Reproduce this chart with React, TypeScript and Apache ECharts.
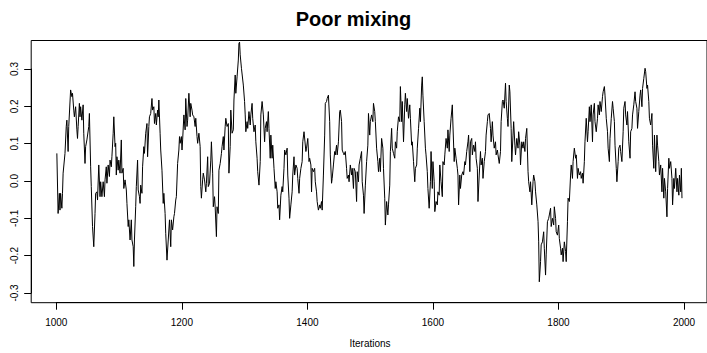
import React, { useEffect, useRef } from "react";
import * as echarts from "echarts";

// [iteration, value] pairs
const seg1: [number, number][] = [
  [1001, 0.074], [1003, -0.087], [1005, -0.033], [1006, -0.078], [1007, -0.033], [1009, -0.073], [1010, -0.033],
  [1011, 0.021], [1014, 0.074], [1016, 0.146], [1017, 0.163], [1019, 0.079], [1020, 0.146], [1023, 0.244],
  [1025, 0.226], [1026, 0.235], [1028, 0.19], [1029, 0.172], [1031, 0.199], [1033, 0.137], [1034, 0.114],
  [1035, 0.146], [1037, 0.208], [1038, 0.172], [1039, 0.199], [1041, 0.163], [1043, 0.204], [1044, 0.128],
  [1046, 0.047], [1047, 0.092], [1049, 0.11], [1052, 0.146], [1053, 0.181], [1055, 0.038], [1056, -0.015],
  [1058, -0.122], [1060, -0.176], [1062, -0.087], [1063, -0.033], [1065, -0.029], [1066, -0.051], [1068, 0.043],
  [1070, -0.042], [1071, -0.002], [1073, -0.042], [1075, -0.002], [1077, -0.042], [1078, 0.003], [1080, 0.038],
  [1081, -0.006], [1083, 0.043], [1085, 0.012], [1086, 0.056], [1088, 0.038], [1089, 0.065], [1091, 0.128],
  [1092, 0.172], [1094, 0.092], [1095, 0.101], [1096, 0.016], [1097, 0.065], [1099, 0.029], [1100, 0.056],
  [1102, 0.021], [1104, 0.11], [1105, 0.021], [1107, 0.034], [1108, -0.02], [1110, 0.003], [1112, -0.024],
  [1113, -0.06], [1115, -0.122], [1116, -0.104], [1118, -0.158], [1120, -0.104], [1121, -0.158], [1123, -0.176],
  [1124, -0.229], [1125, -0.158], [1127, -0.069], [1128, -0.015], [1130, 0.056], [1131, -0.024], [1133, -0.042],
  [1134, -0.06], [1135, -0.011], [1137, -0.033], [1138, 0.038], [1140, 0.092], [1141, 0.074], [1143, 0.128],
  [1145, 0.154], [1146, 0.065], [1148, 0.146], [1149, 0.172], [1151, 0.181], [1153, 0.221], [1154, 0.19],
  [1156, 0.199], [1157, 0.154], [1159, 0.181], [1160, 0.15],
];

const seg2: [number, number][] = [
  [1162, 0.19], [1163, 0.172], [1164, 0.217], [1166, 0.128], [1167, 0.083], [1169, 0.029], [1171, -0.06],
  [1172, -0.033], [1174, -0.087], [1175, -0.14], [1177, -0.212], [1179, -0.158], [1181, -0.104], [1183, -0.176],
  [1184, -0.104], [1186, -0.131], [1188, -0.096], [1189, -0.087], [1191, -0.051], [1192, -0.042], [1194, 0.047],
  [1196, 0.083], [1197, 0.119], [1198, 0.101], [1200, 0.119], [1201, 0.083], [1202, 0.11], [1204, 0.177],
  [1206, 0.137], [1207, 0.221], [1209, 0.146], [1210, 0.163], [1212, 0.235], [1214, 0.172], [1215, 0.208],
  [1217, 0.19], [1218, 0.177], [1220, 0.172], [1222, 0.146], [1223, 0.168], [1225, 0.119], [1226, 0.101],
  [1228, 0.128], [1230, 0.092], [1231, -0.015], [1232, -0.046], [1234, 0.003], [1235, 0.021], [1237, 0.003],
  [1239, -0.029], [1240, -0.006], [1242, 0.065], [1243, -0.015], [1245, -0.006], [1247, 0.056], [1248, 0.105],
  [1250, 0.021], [1251, -0.069], [1253, -0.042], [1254, -0.069], [1256, -0.149], [1257, -0.069], [1259, -0.087],
  [1260, 0.029], [1262, 0.047], [1264, 0.074], [1265, 0.092], [1267, 0.119], [1268, 0.083], [1270, 0.146],
  [1271, 0.168], [1273, 0.146], [1275, 0.154], [1276, 0.021], [1278, 0.092], [1279, 0.19], [1281, 0.128],
  [1283, 0.137], [1284, 0.217], [1286, 0.284], [1287, 0.235], [1289, 0.279], [1291, 0.324], [1292, 0.369],
  [1293, 0.372], [1294, 0.338], [1296, 0.302], [1299, 0.257], [1301, 0.213], [1302, 0.177], [1303, 0.132],
  [1305, 0.159], [1306, 0.141], [1308, 0.186], [1310, 0.15], [1311, 0.177], [1313, 0.208], [1314, 0.168],
  [1316, 0.132], [1318, 0.15], [1319, 0.105], [1321, 0.061], [1322, 0.025], [1324, -0.011], [1326, 0.052],
  [1327, 0.177], [1329, 0.213],
];

const seg3: [number, number][] = [
  [1331, 0.177], [1333, 0.105], [1334, 0.141], [1336, 0.159], [1337, 0.132], [1339, 0.186], [1340, 0.141],
  [1342, 0.061], [1343, 0.123], [1345, 0.061], [1346, 0.096], [1348, 0.034], [1350, -0.02], [1351, -0.002],
  [1353, -0.029], [1354, -0.073], [1356, -0.064], [1357, -0.104], [1359, -0.038], [1361, -0.015], [1362, -0.029],
  [1364, 0.034], [1365, 0.083], [1367, 0.07], [1369, 0.088], [1370, 0.016], [1372, -0.046], [1373, -0.1],
  [1375, -0.064], [1377, -0.029], [1378, 0.016], [1380, 0.065], [1381, 0.016], [1383, 0.043], [1385, 0.034],
  [1386, 0.007], [1388, -0.033], [1389, 0.007], [1391, 0.034], [1393, 0.052], [1394, 0.105], [1396, 0.132],
  [1397, 0.132], [1399, 0.079], [1400, 0.088], [1402, 0.114], [1404, 0.052], [1405, 0.061], [1407, 0.043],
  [1408, -0.029], [1409, 0.034], [1411, 0.025], [1413, 0.034], [1414, -0.002], [1416, -0.029], [1417, -0.055],
  [1419, -0.078], [1421, -0.064], [1422, -0.073], [1424, -0.055], [1425, -0.078], [1427, 0.016], [1429, 0.123],
  [1430, 0.208], [1432, 0.213], [1433, 0.221], [1435, 0.23], [1437, 0.159], [1438, 0.07], [1440, -0.006],
  [1441, 0.007], [1443, 0.043], [1445, 0.079], [1446, 0.07], [1448, 0.096], [1449, 0.07], [1451, 0.105],
  [1453, 0.186], [1454, 0.19], [1456, 0.159], [1457, 0.083], [1459, 0.074], [1460, 0.07], [1462, 0.079],
  [1464, 0.034], [1465, 0.007], [1467, 0.016], [1468, -0.002], [1470, 0.043], [1472, 0.016], [1473, 0.034],
  [1475, -0.02], [1476, 0.034], [1478, 0.025], [1480, -0.055], [1481, 0.025], [1483, -0.002], [1484, 0.043],
  [1486, 0.061], [1488, 0.079], [1489, -0.002], [1491, -0.038], [1492, -0.087],
];

const seg4: [number, number][] = [
  [1494, -0.011], [1496, 0.052], [1498, 0.096], [1499, 0.181], [1501, 0.123], [1502, 0.159], [1504, 0.177],
  [1506, 0.159], [1507, 0.208], [1509, 0.186], [1510, 0.159], [1512, 0.088], [1514, 0.052], [1515, 0.025],
  [1517, 0.061], [1518, 0.025], [1520, 0.114], [1522, 0.088], [1523, 0.034], [1525, -0.046], [1526, -0.118],
  [1528, -0.055], [1530, -0.091], [1531, -0.064], [1533, -0.011], [1534, 0.079], [1536, 0.141], [1537, 0.088],
  [1539, 0.074], [1541, 0.061], [1542, 0.105], [1544, 0.088], [1545, 0.132], [1547, 0.172], [1549, 0.159],
  [1550, 0.253], [1552, 0.159], [1553, 0.213], [1555, 0.105], [1557, 0.204], [1558, 0.235], [1560, 0.186],
  [1561, 0.221], [1563, 0.168], [1565, 0.204], [1566, 0.168], [1568, 0.096], [1569, 0.105], [1571, 0.052],
  [1573, -0.002], [1574, 0.034], [1576, 0.043], [1577, 0.088], [1579, 0.141], [1581, 0.195], [1582, 0.159],
  [1584, 0.257], [1585, 0.279], [1586, 0.23], [1588, 0.159], [1590, 0.088], [1591, 0.07], [1593, 0.025],
  [1594, -0.02], [1596, -0.073], [1598, -0.002], [1599, 0.079], [1601, -0.02], [1602, 0.052], [1604, -0.002],
  [1605, -0.082], [1607, -0.055], [1609, -0.064], [1610, -0.029], [1612, -0.038], [1613, 0.043], [1615, -0.002],
  [1617, -0.042], [1618, 0.052], [1620, 0.043], [1621, 0.07], [1623, 0.114], [1625, 0.088], [1626, 0.137],
  [1628, 0.079], [1629, 0.123], [1631, 0.168], [1633, 0.204], [1634, 0.15], [1636, 0.052], [1637, 0.088],
  [1639, 0.061], [1641, 0.034], [1642, 0.016], [1643, -0.064], [1645, 0.016], [1646, -0.02], [1648, 0.016],
  [1650, 0.025], [1651, 0.016], [1653, 0.052], [1654, 0.043], [1656, 0.079], [1658, 0.105], [1659, 0.123],
  [1661, 0.025], [1662, 0.105], [1664, 0.114],
];

const seg5: [number, number][] = [
  [1665, 0.07], [1667, 0.096], [1669, 0.079], [1670, 0.105], [1671, 0.061], [1673, 0.034], [1674, -0.055],
  [1676, 0.016], [1678, 0.079], [1679, 0.043], [1681, 0.061], [1682, 0.007], [1684, 0.052], [1686, 0.079],
  [1687, 0.123], [1689, 0.159], [1690, 0.177], [1692, 0.181], [1694, 0.141], [1695, 0.105], [1697, 0.159],
  [1698, 0.123], [1700, 0.088], [1702, 0.105], [1703, 0.07], [1705, 0.083], [1706, 0.07], [1708, 0.047],
  [1710, 0.079], [1711, 0.159], [1713, 0.213], [1714, 0.217], [1716, 0.195], [1718, 0.262], [1719, 0.213],
  [1721, 0.168], [1722, 0.146], [1724, 0.257], [1725, 0.239], [1727, 0.141], [1728, 0.052], [1730, 0.123],
  [1731, 0.159], [1733, 0.096], [1734, 0.07], [1736, 0.114], [1738, 0.088], [1739, 0.132], [1741, 0.096],
  [1742, 0.043], [1744, 0.105], [1746, 0.088], [1747, 0.105], [1749, 0.079], [1750, 0.114], [1752, 0.141],
  [1754, 0.025], [1755, -0.002], [1757, -0.029], [1758, -0.002], [1760, -0.064], [1762, -0.002], [1763, 0.016],
  [1765, -0.002], [1766, -0.029], [1768, -0.064], [1770, -0.109], [1771, -0.163], [1772, -0.27], [1774, -0.216],
  [1775, -0.171], [1777, -0.163], [1779, -0.136], [1780, -0.18], [1782, -0.252], [1783, -0.198], [1785, -0.109],
  [1787, -0.1], [1788, -0.091], [1790, -0.073], [1791, -0.122], [1793, -0.1], [1795, -0.118], [1796, -0.069],
  [1798, -0.1], [1799, -0.136], [1801, -0.145], [1803, -0.118], [1804, -0.154], [1806, -0.18], [1807, -0.198],
  [1809, -0.18], [1810, -0.216], [1812, -0.163], [1814, -0.189], [1815, -0.216], [1817, -0.109], [1818, -0.046],
  [1820, -0.055], [1822, 0.016], [1823, 0.043], [1825, 0.007], [1826, 0.052], [1828, 0.088], [1830, 0.061],
  [1831, 0.07],
];

const seg6: [number, number][] = [
  [1833, 0.007], [1834, 0.034], [1836, 0.016], [1838, 0.025], [1839, 0.007], [1841, 0.021], [1842, -0.006],
  [1844, 0.052], [1845, 0.105], [1847, 0.168], [1849, 0.105], [1850, 0.132], [1852, 0.199], [1853, 0.159],
  [1855, 0.204], [1857, 0.105], [1858, 0.177], [1860, 0.208], [1861, 0.159], [1863, 0.132], [1865, 0.168],
  [1866, 0.204], [1868, 0.177], [1869, 0.213], [1871, 0.186], [1873, 0.226], [1874, 0.239], [1876, 0.253],
  [1877, 0.23], [1879, 0.168], [1881, 0.132], [1882, 0.088], [1884, 0.052], [1885, 0.114], [1887, 0.168],
  [1889, 0.213], [1890, 0.195], [1892, 0.159], [1893, 0.096], [1895, 0.034], [1896, -0.002], [1898, 0.052],
  [1899, 0.088], [1901, 0.096], [1902, 0.079], [1904, 0.052], [1906, 0.132], [1907, 0.195], [1909, 0.213],
  [1910, 0.177], [1912, 0.15], [1913, 0.186], [1915, 0.105], [1917, 0.061], [1918, 0.132], [1920, 0.141],
  [1921, 0.177], [1923, 0.204], [1925, 0.239], [1926, 0.213], [1928, 0.195], [1929, 0.141], [1931, 0.186],
  [1933, 0.23], [1934, 0.244], [1936, 0.199], [1937, 0.248], [1939, 0.275], [1941, 0.302], [1942, 0.293],
  [1944, 0.248], [1945, 0.257], [1947, 0.213], [1948, 0.168], [1950, 0.15], [1952, 0.181], [1953, 0.096],
  [1955, 0.034], [1956, 0.123], [1958, 0.025], [1960, 0.123], [1961, 0.096], [1963, 0.052], [1964, 0.016],
  [1966, 0.043], [1968, -0.029], [1969, 0.034], [1971, -0.046], [1972, 0.007], [1974, -0.029], [1976, -0.096],
  [1977, -0.02], [1979, 0.061], [1980, 0.034], [1982, 0.052], [1984, 0.007], [1985, -0.064], [1987, 0.007],
  [1988, -0.02], [1990, 0.034], [1992, -0.029], [1993, 0.007], [1995, -0.038], [1996, 0.016], [1998, -0.029],
  [1999, 0.034], [2000, -0.046],
];

const xTicks = [1000, 1200, 1400, 1600, 1800, 2000];
const yTicks = [-0.3, -0.2, -0.1, 0.0, 0.1, 0.2, 0.3];
const titleText = "Poor mixing";
const xLabel = "Iterations";

const FONT = "'Liberation Sans', Arial, Helvetica, sans-serif";

export default function App() {
  const ref = useRef<HTMLDivElement>(null);
  useEffect(() => {
    if (!ref.current) return;
    const chart = echarts.init(ref.current, undefined, { renderer: "svg" });
    const trace = [...seg1, ...seg2, ...seg3, ...seg4, ...seg5, ...seg6];
    const axisLine = { show: true, lineStyle: { color: "#000", width: 1 } };
    const axisTick = { show: true, inside: false, length: 7, lineStyle: { color: "#000", width: 1 } };
    chart.setOption({
      animation: false,
      backgroundColor: "#fff",
      textStyle: { fontFamily: FONT },
      grid: [
        { left: 31.2, top: 40.5, width: 677.9, height: 262.2, show: true, borderColor: "#000", borderWidth: 1, backgroundColor: "transparent" },
        { left: 56.3, top: 40.5, width: 627.7, height: 262.2 },
        { left: 31.2, top: 69, width: 20, height: 224 },
      ],
      xAxis: [
        { gridIndex: 0, type: "value", min: 960, max: 2040, show: false },
        {
          gridIndex: 1, type: "value", min: xTicks[0], max: xTicks[xTicks.length - 1], interval: 200,
          position: "bottom", axisLine, axisTick, splitLine: { show: false },
          axisLabel: {
            show: true, margin: 15, fontSize: 10, color: "#000", fontFamily: FONT,
            showMinLabel: true, showMaxLabel: true,
            formatter: (v: number) => String(v),
          },
        },
        { gridIndex: 2, type: "value", min: 0, max: 1, show: false },
      ],
      yAxis: [
        { gridIndex: 0, type: "value", min: -0.326, max: 0.3764, show: false },
        { gridIndex: 1, type: "value", min: 0, max: 1, show: false },
        {
          gridIndex: 2, type: "value", min: yTicks[0], max: yTicks[yTicks.length - 1], interval: 0.1,
          position: "left", axisLine, axisTick, splitLine: { show: false },
          axisLabel: {
            show: true, rotate: 90, margin: 12, fontSize: 10, color: "#000", fontFamily: FONT,
            showMinLabel: true, showMaxLabel: true,
            formatter: (v: number) => v.toFixed(1),
          },
        },
      ],
      graphic: [
        { type: "text", left: "center", x: 0, top: 9, style: { text: titleText, font: `bold 20px ${FONT}`, fill: "#000" } },
        { type: "text", x: 370, y: 343, style: { text: xLabel, font: `10px ${FONT}`, fill: "#000", align: "center", verticalAlign: "middle" } },
      ],
      series: [
        {
          type: "line", xAxisIndex: 0, yAxisIndex: 0, data: trace, showSymbol: false, symbol: "none",
          lineStyle: { color: "#000", width: 1 }, clip: true, silent: true,
        },
      ],
    });
    return () => chart.dispose();
  }, []);
  return <div ref={ref} style={{ position: "fixed", left: 0, top: 0, width: 707, height: 353 }} />;
}
